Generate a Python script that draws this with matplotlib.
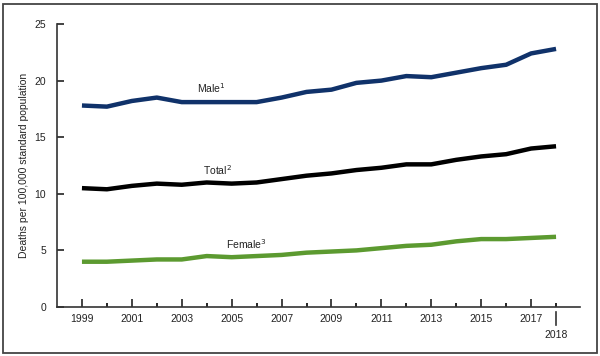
import matplotlib
matplotlib.use("Agg")
import matplotlib.pyplot as plt
from matplotlib.patches import Rectangle
from matplotlib.ticker import FixedLocator

years = list(range(1999, 2019))
male = [17.8, 17.7, 18.2, 18.5, 18.1, 18.1, 18.1, 18.1, 18.5, 19.0,
        19.2, 19.8, 20.0, 20.4, 20.3, 20.7, 21.1, 21.4, 22.4, 22.8]
total = [10.5, 10.4, 10.7, 10.9, 10.8, 11.0, 10.9, 11.0, 11.3, 11.6,
         11.8, 12.1, 12.3, 12.6, 12.6, 13.0, 13.3, 13.5, 14.0, 14.2]
female = [4.0, 4.0, 4.1, 4.2, 4.2, 4.5, 4.4, 4.5, 4.6, 4.8,
          4.9, 5.0, 5.2, 5.4, 5.5, 5.8, 6.0, 6.0, 6.1, 6.2]
major_years = list(range(1999, 2018, 2))
minor_years = list(range(2000, 2019, 2))
yticks = [0, 5, 10, 15, 20, 25]

plt.rcParams['font.family'] = ['Liberation Sans', 'DejaVu Sans']

fig = plt.figure(figsize=(6.0, 3.56), dpi=100)
ax = fig.add_axes([57/600, 1-307/356, (580-57)/600, (307-24)/356])

navy = '#10326a'
green = '#5c9a30'
ax.plot(years, male, color=navy, lw=3.2, solid_capstyle='butt')
ax.plot(years, total, color='black', lw=3.2, solid_capstyle='butt')
ax.plot(years, female, color=green, lw=3.2, solid_capstyle='butt')

ax.text(2004.2, 19.3, 'Male$^1$', ha='center', va='center', fontsize=7.5, color='#222222')
ax.text(2004.45, 12.1, 'Total$^2$', ha='center', va='center', fontsize=7.5, color='#222222')
ax.text(2005.6, 5.6, 'Female$^3$', ha='center', va='center', fontsize=7.5, color='#222222')

ax.set_xlim(1998, 2018.96)
ax.set_ylim(0, 25)
ax.xaxis.set_major_locator(FixedLocator(major_years))
ax.xaxis.set_minor_locator(FixedLocator(minor_years))
ax.set_xticklabels([str(y) for y in major_years])
ax.set_yticks(yticks)
ax.tick_params(axis='x', which='major', direction='in', length=6, width=1.2, labelsize=7.5, pad=5, colors='#222222')
ax.tick_params(axis='x', which='minor', direction='in', length=3, width=1.2)
ax.tick_params(axis='y', direction='in', length=5, width=1.2, labelsize=7.5, pad=8, colors='#222222')

for s in ['top', 'right']:
    ax.spines[s].set_visible(False)
for s in ['left', 'bottom']:
    ax.spines[s].set_linewidth(1.2)
    ax.spines[s].set_color('#333333')

ax.set_ylabel('Deaths per 100,000 standard population', fontsize=7.5, color='#222222')
ax.yaxis.set_label_coords(-0.053, 0.5)

# 2018 special label
trans = ax.get_xaxis_transform()
ax.plot([2018, 2018], [-5/283, -18/283], transform=trans, color='#333333', lw=1.2, clip_on=False)
ax.text(2018, -28/283, '2018', transform=trans, ha='center', va='center', fontsize=7.5, color='#222222')

fig.patches.append(Rectangle((3/600, 3/356), 594/600, 349/356, transform=fig.transFigure,
                             fill=False, edgecolor='#444444', linewidth=1.3))

fig.savefig('out.png', dpi=100)
